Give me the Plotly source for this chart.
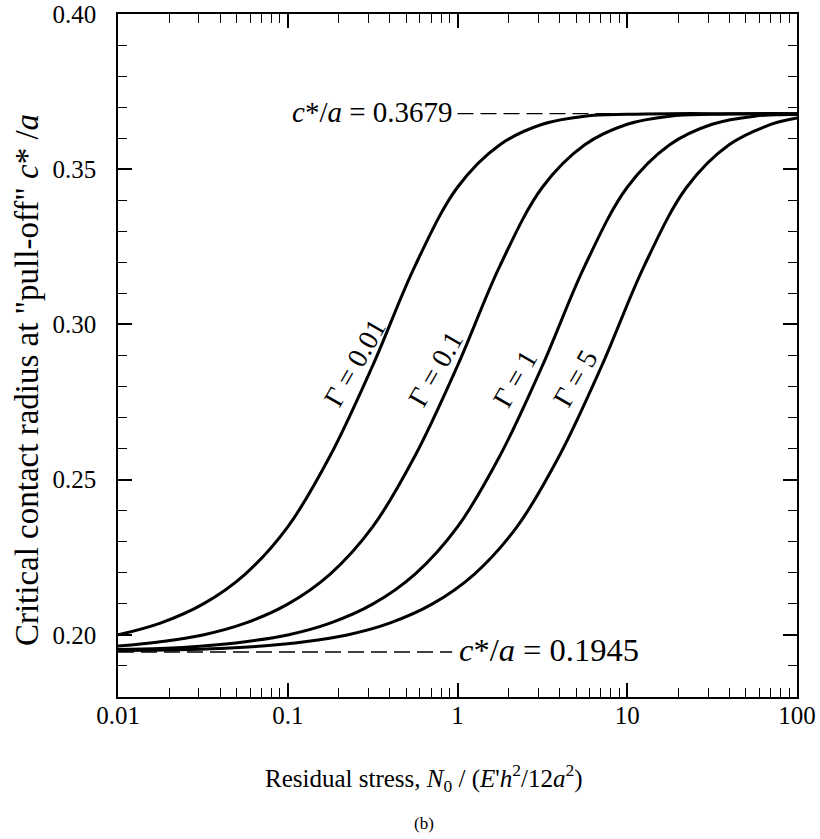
import plotly.graph_objects as go

# ---- data (values at quarter-decade steps) ----
x_g001 = [0.01, 0.01778, 0.03162, 0.05623, 0.1, 0.1778, 0.3162, 0.5623, 1, 1.778, 3.162, 5.623, 10, 17.78, 31.62, 56.23, 100]
y_g001 = [0.2000, 0.2038, 0.2099, 0.2196, 0.2348, 0.2577, 0.2867, 0.3189, 0.3442, 0.3579, 0.3645, 0.3671, 0.3677,
          0.3679, 0.3679, 0.3679, 0.3679]

x_g01 = [0.01, 0.01778, 0.03162, 0.05623, 0.1, 0.1778, 0.3162, 0.5623, 1, 1.778, 3.162, 5.623, 10, 17.78, 31.62, 56.23, 100]
y_g01 = [0.1964, 0.1978, 0.2000, 0.2038, 0.2099, 0.2196, 0.2348, 0.2577, 0.2867, 0.3189, 0.3442, 0.3579, 0.3645,
         0.3671, 0.3677, 0.3679, 0.3679]

x_g1 = [0.01, 0.01778, 0.03162, 0.05623, 0.1, 0.1778, 0.3162, 0.5623, 1, 1.778, 3.162, 5.623, 10, 17.78, 31.62, 56.23, 100]
y_g1 = [0.1953, 0.1956, 0.1964, 0.1978, 0.2000, 0.2038, 0.2099, 0.2196, 0.2348, 0.2577, 0.2867, 0.3189, 0.3442,
        0.3579, 0.3645, 0.3671, 0.3676]

x_g5 = [0.01, 0.02239, 0.03981, 0.07079, 0.1259, 0.2239, 0.3981, 0.7079, 1.259, 2.239, 3.981, 7.079, 12.59, 22.39,
        39.81, 70.79, 100]
y_g5 = [0.1950, 0.1952, 0.1956, 0.1964, 0.1978, 0.2000, 0.2038, 0.2099, 0.2196, 0.2348, 0.2577, 0.2867, 0.3189,
        0.3442, 0.3579, 0.3645, 0.3665]

upper_x = [1.0, 100]
upper_y = [0.3679, 0.3679]
lower_x = [0.01, 0.93]
lower_y = [0.1945, 0.1945]

x_ticks = [0.01, 0.1, 1, 10, 100]
x_ticktext = ["0.01", "0.1", "1", "10", "100"]
y_ticks = [0.20, 0.25, 0.30, 0.35, 0.40]
y_ticktext = ["0.20", "0.25", "0.30", "0.35", "0.40"]
x_minor = [m * d for d in [0.01, 0.1, 1, 10] for m in range(2, 10)]
y_minor = [0.18, 0.19, 0.21, 0.22, 0.23, 0.24, 0.26, 0.27, 0.28, 0.29, 0.31, 0.32, 0.33, 0.34, 0.36, 0.37, 0.38, 0.39]

FONT = "Liberation Serif"

fig = go.Figure()
for xs, ys in [(x_g001, y_g001), (x_g01, y_g01), (x_g1, y_g1), (x_g5, y_g5)]:
    fig.add_trace(go.Scatter(x=xs, y=ys, mode="lines", line=dict(color="black", width=3, shape="spline", smoothing=1.0),
                             showlegend=False, hoverinfo="skip"))
for xs, ys in [(upper_x, upper_y), (lower_x, lower_y)]:
    fig.add_trace(go.Scatter(x=xs, y=ys, mode="lines", line=dict(color="black", width=1.3, dash="16px,7px"),
                             showlegend=False, hoverinfo="skip"))

axis_common = dict(showline=True, linecolor="black", linewidth=1.5, mirror="ticks", ticks="inside",
                   tickcolor="black", tickwidth=1.5, ticklen=14, showgrid=False, zeroline=False, automargin=False,
                   ticklabeloverflow="allow",
                   tickfont=dict(family=FONT, size=25, color="black"))

fig.update_xaxes(type="log", range=[-2, 2], tickvals=x_ticks, ticktext=x_ticktext, ticklabelstandoff=-5,
                 minor=dict(ticks="inside", ticklen=9, tickwidth=1.2, tickcolor="black", tickvals=x_minor, showgrid=False),
                 **axis_common)
fig.update_yaxes(range=[0.18, 0.40], tickvals=y_ticks, ticktext=y_ticktext, ticklabelstandoff=15,
                 minor=dict(ticks="inside", ticklen=9, tickwidth=1.2, tickcolor="black", tickvals=y_minor, showgrid=False),
                 **axis_common)

ann_font = dict(family=FONT, size=28, color="black")
anns = [
    dict(x=0.349, y=0.49, text="Γ = 0.01", textangle=-60),
    dict(x=0.467, y=0.480, text="Γ = 0.1", textangle=-60),
    dict(x=0.585, y=0.466, text="Γ = 1", textangle=-60),
    dict(x=0.673, y=0.467, text="Γ = 5", textangle=-60),
]
for a in anns:
    fig.add_annotation(xref="paper", yref="paper", showarrow=False, font=ann_font, xanchor="center", yanchor="middle", **a)

fig.add_annotation(xref="paper", yref="paper", x=0.497, y=0.856, xanchor="right", yanchor="middle", showarrow=False,
                   text="<i>c</i>*/<i>a</i> = 0.3679", font=dict(family=FONT, size=29, color="black"))
fig.add_annotation(xref="paper", yref="paper", x=0.499, y=0.069, xanchor="left", yanchor="middle", showarrow=False,
                   text="<i>c</i>*/<i>a</i> = 0.1945", font=dict(family=FONT, size=32.5, color="black"))

fig.add_annotation(xref="paper", yref="paper", x=0.451, y=-0.119, xanchor="center", yanchor="middle", showarrow=False,
                   text="Residual stress, <i>N</i><sub>0</sub> / (<i>E</i>'<i>h</i><sup>2</sup>/12<i>a</i><sup>2</sup>)",
                   font=dict(family=FONT, size=25, color="black"))
fig.add_annotation(xref="paper", yref="paper", x=0.451, y=-0.1845, xanchor="center", yanchor="middle", showarrow=False,
                   text="(b)", font=dict(family=FONT, size=17, color="black"))
fig.add_annotation(xref="paper", yref="paper", x=-0.134, y=0.464, xanchor="center", yanchor="middle", showarrow=False,
                   textangle=-90,
                   text="Critical contact radius at \"pull-off\" <i>c</i>* /<i>a</i>",
                   font=dict(family=FONT, size=33, color="black"))

fig.update_layout(width=820, height=839, margin=dict(l=118, r=23, t=14, b=142),
                  plot_bgcolor="white", paper_bgcolor="white")

# remove the default 8px page margin so the figure sits at the window's corner
fig.write_html("out.html", config={"displayModeBar": False},
               post_script="document.body.style.margin='0px';")
